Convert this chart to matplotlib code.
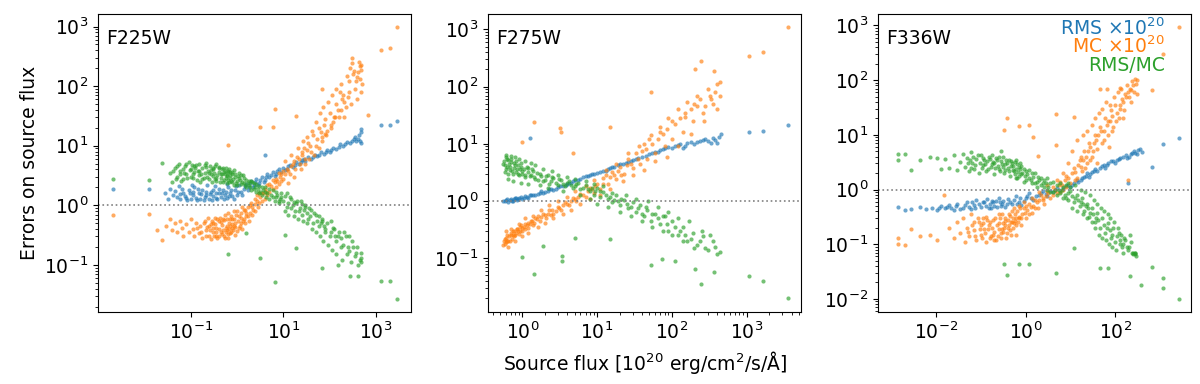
import numpy as np
import matplotlib
matplotlib.use("Agg")
import matplotlib.pyplot as plt
from matplotlib.ticker import FixedLocator, NullLocator

# -----------------------------
# Data (flux, error) pairs per filter
# -----------------------------
filters = ["F225W", "F275W", "F336W"]

# F225W
f225_rms = [
    (0.0021, 1.9), (0.0126, 1.9), (0.028, 1.6), (0.032, 1.3), (0.036, 1.9), (0.042, 1.5),
    (0.05, 1.4), (0.055, 2.1), (0.06, 1.3), (0.07, 1.6), (0.08, 1.35), (0.09, 1.8),
    (0.1, 1.3), (0.11, 1.5), (0.12, 2.0), (0.13, 1.35), (0.15, 1.6), (0.16, 1.3),
    (0.18, 1.8), (0.2, 1.4), (0.22, 1.5), (0.25, 1.3), (0.27, 1.7), (0.3, 1.45),
    (0.33, 2.1), (0.36, 1.35), (0.4, 1.6), (0.45, 1.4), (0.5, 1.8), (0.55, 1.5),
    (0.6, 1.35), (0.65, 2.0), (0.7, 1.6), (0.8, 1.45), (0.9, 1.8), (1.0, 1.5),
    (1.1, 2.2), (1.2, 1.7), (1.4, 1.9), (1.6, 2.3), (1.8, 2.0), (2.0, 2.6),
    (2.3, 2.2), (2.6, 2.8), (3.0, 2.4), (3.5, 3.0), (4.0, 2.7), (4.0, 6.9),
    (4.5, 3.3), (5.0, 3.0), (6.0, 3.6), (7.0, 3.3), (8.0, 4.0), (9.0, 3.6),
    (10, 4.3), (12, 4.0), (14, 4.8), (16, 4.4), (19, 5.3), (22, 5.0), (26, 5.8),
    (30, 5.5), (35, 6.5), (40, 6.0), (48, 7.0), (55, 6.6), (65, 7.8), (75, 7.3),
    (90, 8.5), (100, 8.0), (120, 9.2), (140, 8.8), (170, 10.5), (200, 10),
    (240, 11.5), (280, 11), (330, 13), (380, 12), (430, 15), (470, 17), (490, 19),
    (490, 11), (1300, 22), (2000, 22), (2800, 26),
    (0.045, 1.75), (0.058, 1.55), (0.065, 1.9), (0.075, 1.45), (0.085, 1.25),
    (0.095, 1.6), (0.105, 2.2), (0.115, 1.7), (0.14, 1.25), (0.145, 1.9), (0.17, 1.55),
    (0.19, 1.25), (0.21, 1.7), (0.23, 2.2), (0.26, 1.55), (0.29, 1.25), (0.31, 1.8),
    (0.35, 1.6), (0.38, 1.3), (0.42, 1.9), (0.48, 1.6), (0.52, 1.3), (0.58, 1.7),
    (0.62, 2.3), (0.68, 1.45), (0.75, 1.8), (0.85, 1.3), (0.95, 2.1), (1.05, 1.7),
    (1.3, 1.5), (1.5, 2.1), (1.7, 1.8), (1.9, 2.4), (2.2, 2.0), (2.5, 2.5), (2.8, 2.2),
    (3.2, 2.7), (3.8, 2.5), (4.2, 3.0), (5.5, 3.2), (6.5, 3.1), (7.5, 3.8), (11, 3.9),
    (13, 4.5), (18, 4.7), (24, 5.4), (28, 6.1), (45, 6.4), (60, 7.1), (85, 7.9),
    (110, 8.6), (160, 9.6), (220, 10.5), (300, 12), (350, 14), (420, 13), (460, 12),
]
f225_mc = [
    (0.0021, 0.68), (0.0126, 0.72), (0.019, 0.38), (0.024, 0.26), (0.03, 0.45),
    (0.035, 0.6), (0.04, 0.38), (0.045, 0.5), (0.05, 0.35), (0.06, 0.55), (0.065, 0.42),
    (0.07, 0.3), (0.08, 0.48), (0.09, 0.36), (0.1, 0.6), (0.11, 0.4), (0.12, 0.3),
    (0.13, 0.5), (0.15, 0.34), (0.16, 0.45), (0.18, 0.28), (0.2, 0.55), (0.22, 0.38),
    (0.25, 0.3), (0.27, 0.48), (0.3, 0.35), (0.33, 0.62), (0.36, 0.42), (0.4, 0.3),
    (0.45, 0.52), (0.5, 0.38), (0.55, 0.7), (0.6, 0.45), (0.65, 0.33), (0.7, 0.58),
    (0.8, 0.42), (0.85, 0.8), (0.9, 0.5), (1.0, 0.37), (1.1, 0.65), (1.2, 0.5),
    (1.3, 0.95), (1.4, 0.6), (1.6, 0.75), (1.8, 0.55), (2.0, 1.1), (2.2, 0.85),
    (2.5, 1.3), (2.8, 0.95), (3.0, 1.6), (3.5, 1.2), (4.0, 1.9), (4.5, 1.5),
    (5, 2.3), (6, 1.9), (7, 2.8), (8, 2.3), (9, 3.3), (10, 2.8), (12, 4), (14, 3.3),
    (16, 5), (18, 4), (20, 6.5), (23, 5), (26, 8), (30, 6), (35, 11), (40, 8),
    (45, 15), (50, 10), (60, 20), (70, 14), (80, 28), (90, 18), (100, 35), (120, 25),
    (140, 50), (160, 30), (166, 81), (200, 70), (230, 45), (260, 120), (280, 200),
    (300, 240), (320, 160), (350, 90), (400, 140), (450, 220), (480, 80), (500, 110),
    (0.65, 10.4), (3.1, 21), (6, 21), (6.8, 41), (19, 32), (69, 90), (690, 33),
    (1300, 400), (2000, 430), (2800, 970),
    (0.14, 0.42), (0.17, 0.36), (0.19, 0.5), (0.21, 0.3), (0.23, 0.44), (0.24, 0.62),
    (0.26, 0.38), (0.28, 0.27), (0.29, 0.55), (0.31, 0.42), (0.32, 0.3), (0.34, 0.48),
    (0.35, 0.36), (0.37, 0.58), (0.38, 0.28), (0.42, 0.4), (0.43, 0.62), (0.47, 0.33),
    (0.48, 0.46), (0.52, 0.56), (0.53, 0.3), (0.57, 0.42), (0.58, 0.36), (0.62, 0.6),
    (0.63, 0.28), (0.67, 0.5), (0.68, 0.4), (0.72, 0.34), (0.75, 0.65), (0.78, 0.48),
    (0.82, 0.38), (0.88, 0.58), (0.92, 0.44), (0.95, 0.7), (1.05, 0.55), (1.15, 0.45),
    (1.25, 0.75), (1.35, 0.55), (1.5, 0.85), (1.55, 0.65), (1.7, 0.95), (1.9, 0.75),
    (2.1, 0.95), (2.4, 1.05), (2.7, 1.2), (3.2, 1.4), (3.7, 1.6), (4.2, 1.7),
    (5.5, 2.1), (6.5, 2.5), (7.5, 2.6), (8.5, 3.0), (11, 3.3), (13, 3.8), (15, 4.5),
    (17, 5.5), (22, 6), (25, 7), (28, 9), (33, 8.5), (38, 10), (55, 13), (65, 17),
    (75, 22), (85, 15), (110, 22), (130, 30), (180, 40), (210, 55), (250, 65),
    (0.25, 0.45), (0.3, 0.5), (0.35, 0.3), (0.4, 0.55), (0.45, 0.35), (0.5, 0.6),
    (0.55, 0.28), (0.6, 0.38), (0.65, 0.75), (0.7, 0.45), (0.75, 0.35), (0.8, 0.6),
    (0.85, 0.45), (0.9, 0.32), (1.0, 0.8), (1.1, 0.42), (1.2, 0.62), (1.3, 0.4),
    (1.4, 0.85), (1.5, 0.5), (1.7, 0.65), (1.9, 1.0), (2.1, 0.7), (2.4, 0.8),
    (2.7, 1.5), (3.0, 1.1), (3.5, 1.6), (4, 1.3), (4.5, 2.2), (5, 1.7), (6, 2.7),
    (7, 2.0), (8, 3.5), (9, 2.6), (10, 3.8),
    (11, 5.5), (13, 2.4), (15, 7), (17, 3), (21, 9), (24, 4), (27, 12), (29, 5),
    (32, 14), (36, 6), (42, 18), (46, 7), (52, 25), (58, 9), (62, 35), (68, 12),
    (72, 45), (78, 16), (95, 55), (105, 20), (115, 70), (125, 30), (135, 90),
    (150, 40), (175, 110), (190, 60), (210, 30), (240, 150), (270, 80), (290, 50),
    (310, 300), (340, 180), (370, 120), (390, 60), (420, 170), (440, 250), (460, 130),
    (490, 190), (470, 230),
]
f225_ratio = [
    (0.0021, 2.8), (0.0126, 2.7), (0.024, 5.1), (0.035, 3.5), (0.04, 2.5), (0.045, 4.2),
    (0.05, 3.0), (0.055, 5.0), (0.06, 3.8), (0.07, 2.8), (0.075, 4.5), (0.08, 3.3),
    (0.09, 5.3), (0.1, 4.0), (0.11, 2.9), (0.12, 3.6), (0.13, 4.8), (0.15, 3.2),
    (0.16, 2.5), (0.18, 4.2), (0.2, 3.5), (0.22, 5.2), (0.25, 2.8), (0.27, 3.9),
    (0.3, 3.1), (0.33, 4.6), (0.36, 2.6), (0.4, 3.6), (0.45, 2.9), (0.5, 4.2),
    (0.55, 3.3), (0.6, 2.4), (0.65, 3.8), (0.7, 2.9), (0.8, 3.4), (0.85, 2.2),
    (0.9, 3.0), (1.0, 2.6), (1.1, 3.5), (1.2, 2.3), (1.4, 2.9), (1.6, 2.0),
    (1.8, 2.6), (2.0, 1.8), (2.3, 2.4), (2.6, 1.7), (3.0, 2.1), (3.5, 1.5),
    (4.0, 2.0), (4.5, 1.6), (5, 1.3), (6, 1.8), (7, 1.4), (8, 1.1), (9, 1.6),
    (10, 1.2), (12, 0.95), (14, 1.4), (16, 1.0), (18, 0.8), (20, 1.2), (23, 0.9),
    (26, 0.7), (30, 1.0), (35, 0.6), (40, 0.85), (45, 0.5), (50, 0.7), (60, 0.45),
    (70, 0.6), (80, 0.35), (90, 0.5), (100, 0.3), (120, 0.42), (140, 0.25),
    (160, 0.35), (200, 0.22), (230, 0.3), (260, 0.17), (300, 0.25), (350, 0.14),
    (400, 0.2), (450, 0.12), (480, 0.16),
    (6.7, 0.051), (0.65, 0.15), (3.1, 0.13), (69, 0.09), (150, 0.1), (280, 0.066),
    (410, 0.064), (11, 0.32), (19, 0.19), (1.6, 0.34), (1300, 0.053), (2000, 0.053),
    (2800, 0.027),
    (0.042, 3.8), (0.048, 2.8), (0.052, 4.5), (0.058, 3.3), (0.062, 2.6), (0.068, 4.0),
    (0.072, 3.5), (0.078, 5.0), (0.085, 2.9), (0.095, 3.9), (0.105, 4.8), (0.115, 3.3),
    (0.125, 4.2), (0.14, 2.7), (0.145, 3.7), (0.155, 5.0), (0.17, 3.4), (0.19, 2.9),
    (0.21, 4.4), (0.23, 3.0), (0.24, 3.8), (0.26, 4.6), (0.28, 3.3), (0.29, 2.5),
    (0.31, 4.0), (0.32, 3.5), (0.34, 2.8), (0.35, 4.9), (0.38, 3.2), (0.42, 4.4),
    (0.43, 2.5), (0.47, 3.4), (0.48, 4.0), (0.52, 2.7), (0.53, 3.6), (0.57, 2.9),
    (0.58, 4.3), (0.62, 3.1), (0.63, 3.6), (0.67, 2.5), (0.68, 4.0), (0.72, 3.2),
    (0.75, 2.6), (0.78, 3.6), (0.82, 2.8), (0.88, 3.9), (0.95, 2.4), (1.05, 3.1),
    (1.15, 2.7), (1.3, 2.5), (1.35, 3.2), (1.5, 2.2), (1.7, 2.4), (1.9, 2.0),
    (2.1, 2.5), (2.4, 2.0), (2.8, 1.9), (3.2, 1.7), (3.7, 1.8), (4.2, 1.4), (5.5, 1.5),
    (6.5, 1.2), (7.5, 1.5), (8.5, 1.3), (11, 1.45), (13, 1.1), (15, 0.9), (17, 1.15),
    (22, 0.8), (25, 1.05), (28, 0.85), (33, 0.75), (38, 0.65), (55, 0.55), (65, 0.5),
    (75, 0.45), (110, 0.35), (130, 0.3), (180, 0.28), (250, 0.2),
    (0.1, 3.0), (0.12, 4.6), (0.15, 3.8), (0.18, 2.8), (0.2, 4.8), (0.25, 3.5),
    (0.3, 4.2), (0.35, 2.9), (0.4, 4.3), (0.45, 3.4), (0.5, 2.5), (0.55, 3.8),
    (0.6, 3.2), (0.65, 2.7), (0.7, 3.6), (0.8, 2.5), (0.9, 3.4), (1.0, 2.2),
    (1.1, 2.9), (1.2, 3.2), (1.4, 2.4), (1.6, 2.7), (1.8, 2.2), (2.0, 2.6),
    (2.3, 1.9), (2.6, 2.3), (3.0, 1.6), (3.5, 2.0), (4, 1.7), (5, 1.9), (6, 1.4),
    (7, 1.7), (8, 1.2), (9, 1.4),
    (11, 0.8), (12, 1.6), (13, 0.7), (15, 1.3), (17, 0.65), (19, 1.1), (21, 0.6),
    (24, 1.2), (27, 0.55), (29, 0.95), (32, 0.5), (36, 0.9), (42, 0.4), (46, 0.75),
    (52, 0.35), (58, 0.65), (62, 0.3), (68, 0.55), (72, 0.25), (78, 0.4), (95, 0.22),
    (105, 0.55), (115, 0.18), (125, 0.4), (135, 0.15), (150, 0.3), (175, 0.2),
    (190, 0.12), (210, 0.35), (240, 0.15), (270, 0.3), (290, 0.11), (320, 0.2),
    (370, 0.16), (420, 0.1), (470, 0.13), (490, 0.11),
]

# F275W
f275_rms = [
    (0.56, 1.0), (0.6, 1.05), (0.65, 0.98), (0.7, 1.1), (0.75, 1.02), (0.8, 1.12),
    (0.85, 1.05), (0.9, 1.15), (1.0, 1.1), (1.1, 1.22), (1.2, 1.15), (1.3, 1.28),
    (1.5, 1.25), (1.7, 1.4), (2.0, 1.45), (2.3, 1.6), (2.6, 1.55), (3.0, 1.75),
    (3.5, 1.8), (4.0, 2.0), (4.5, 2.1), (5, 2.3), (6, 2.4), (7, 2.7), (8, 2.8),
    (9, 3.0), (10, 3.1), (12, 3.4), (14, 3.6), (16, 3.9), (19, 4.2), (22, 4.5),
    (26, 4.8), (30, 5.2), (35, 5.6), (40, 6.0), (50, 6.6), (60, 7.2), (70, 7.8),
    (80, 8.3), (100, 8.6), (120, 9.5), (140, 8.5), (160, 10.5), (200, 10), (240, 11),
    (280, 12), (330, 10.5), (380, 11.5), (430, 13), (450, 15),
    (1.27, 12.6), (1070, 16), (1640, 16.5), (3550, 21),
    (0.58, 1.02), (0.62, 1.08), (0.68, 1.04), (0.72, 1.0), (0.78, 1.08), (0.82, 1.15),
    (0.88, 1.1), (0.95, 1.2), (1.05, 1.15), (1.15, 1.18), (1.25, 1.3), (1.4, 1.3),
    (1.6, 1.35), (1.8, 1.5), (1.9, 1.4), (2.2, 1.5), (2.4, 1.65), (2.8, 1.65),
    (3.2, 1.8), (3.8, 1.9), (4.2, 2.05), (4.8, 2.2), (5.5, 2.3), (6.5, 2.6),
    (7.5, 2.7), (8.5, 2.95), (11, 3.2), (13, 3.4), (15, 3.8), (17, 3.9), (20, 4.4),
    (24, 4.6), (28, 5.0), (33, 5.5), (45, 6.2), (55, 7.0), (65, 7.3), (75, 8.0),
    (90, 8.8), (110, 9.0), (130, 9.8), (150, 9.2), (180, 10.8), (220, 10.8),
    (260, 11.5), (300, 11), (350, 12.5), (400, 10.5),
]
f275_mc = [
    (0.56, 0.17), (0.58, 0.22), (0.6, 0.19), (0.62, 0.25), (0.65, 0.2), (0.7, 0.28),
    (0.72, 0.22), (0.75, 0.3), (0.8, 0.25), (0.85, 0.33), (0.9, 0.27), (0.95, 0.38),
    (1.0, 0.3), (1.1, 0.4), (1.2, 0.34), (1.3, 0.45), (1.4, 0.38), (1.5, 0.5),
    (1.7, 0.45), (1.9, 0.6), (2.1, 0.5), (2.3, 0.7), (2.6, 0.6), (3.0, 0.8),
    (3.3, 0.7), (3.7, 0.95), (4.2, 0.85), (4.7, 1.15), (5.3, 1.0), (6, 1.35),
    (7, 1.2), (8, 1.7), (9, 1.4), (10, 2.0), (11, 1.6), (12, 2.5), (14, 2.0),
    (16, 3.2), (18, 2.4), (20, 4.0), (23, 3.0), (26, 5.5), (30, 3.8), (33, 7),
    (37, 4.5), (42, 10), (47, 5.5), (52, 14), (60, 7), (70, 20), (80, 9), (90, 28),
    (100, 12), (120, 40), (140, 16), (160, 55), (190, 25), (220, 70), (260, 35),
    (300, 90), (350, 50), (400, 110), (440, 70),
    (246, 282), (206, 200), (365, 185), (440, 123), (52, 81), (1070, 340),
    (1640, 410), (3550, 1090), (1.45, 24), (3.2, 19), (3.3, 16), (1.0, 10.7),
    (4.8, 6.9), (15, 20),
    (0.57, 0.2), (0.59, 0.18), (0.61, 0.23), (0.63, 0.2), (0.66, 0.24), (0.68, 0.2),
    (0.71, 0.25), (0.74, 0.26), (0.77, 0.24), (0.78, 0.3), (0.82, 0.28), (0.84, 0.32),
    (0.87, 0.3), (0.92, 0.3), (0.93, 0.35), (0.98, 0.34), (1.05, 0.35), (1.08, 0.32),
    (1.15, 0.38), (1.18, 0.42), (1.25, 0.4), (1.35, 0.44), (1.45, 0.42), (1.55, 0.48),
    (1.6, 0.55), (1.8, 0.52), (2.0, 0.58), (2.2, 0.6), (2.4, 0.56), (2.5, 0.7),
    (2.8, 0.68), (3.1, 0.75), (3.5, 0.85), (4.0, 0.9), (4.5, 1.0), (5.0, 1.1),
    (5.6, 1.2), (6.5, 1.25), (7.5, 1.5), (8.5, 1.6), (9.5, 1.8), (12, 2.0), (13, 2.8),
    (15, 2.6), (17, 2.8), (19, 3.4), (21, 2.8), (25, 4.2), (28, 4.5), (35, 5.5),
    (40, 7.5), (45, 8), (55, 10), (65, 12), (75, 15), (85, 18), (110, 22), (130, 28),
    (150, 35), (180, 40), (200, 50), (240, 60), (280, 45), (320, 70), (380, 80),
    (0.6, 0.3), (0.65, 0.16), (0.7, 0.33), (0.8, 0.2), (0.9, 0.4), (1.0, 0.24),
    (1.1, 0.5), (1.2, 0.28), (1.4, 0.55), (1.6, 0.35), (1.8, 0.7), (2.0, 0.42),
    (2.3, 0.85), (2.6, 0.5), (3.0, 1.0), (3.5, 0.6), (4.0, 1.2), (4.5, 0.7), (5, 1.5),
    (6, 0.9), (7, 1.8), (8, 1.1), (9, 2.3), (11, 1.3), (13, 3.5), (15, 1.6), (18, 4.5),
    (22, 2.2), (26, 7), (30, 2.8), (36, 9), (42, 3.5), (50, 12), (60, 5), (70, 16),
    (85, 6), (100, 25), (120, 9), (150, 30), (180, 15), (220, 45), (270, 25),
    (330, 60), (400, 40),
]
f275_ratio = [
    (0.56, 4.5), (0.58, 3.2), (0.6, 5.8), (0.62, 4.0), (0.65, 5.2), (0.68, 3.5),
    (0.7, 4.8), (0.75, 3.0), (0.8, 4.3), (0.85, 3.6), (0.9, 2.8), (0.95, 4.0),
    (1.0, 3.3), (1.1, 2.6), (1.2, 3.8), (1.3, 2.9), (1.4, 3.4), (1.5, 2.4),
    (1.7, 3.0), (1.9, 2.2), (2.1, 2.7), (2.3, 2.0), (2.6, 2.5), (3.0, 1.9),
    (3.3, 2.3), (3.7, 1.8), (4.2, 2.2), (4.7, 1.7), (5.3, 2.0), (6, 1.6), (7, 1.9),
    (8, 1.5), (9, 1.3), (10, 1.7), (11, 1.2), (12, 1.45), (14, 1.1), (16, 0.95),
    (18, 1.25), (20, 0.85), (23, 1.05), (26, 0.75), (30, 0.95), (33, 0.65),
    (37, 0.85), (42, 0.55), (47, 0.7), (52, 0.45), (60, 0.6), (70, 0.4), (80, 0.55),
    (90, 0.3), (100, 0.45), (120, 0.25), (140, 0.35), (160, 0.2), (190, 0.28),
    (220, 0.17), (260, 0.24), (300, 0.14), (350, 0.2), (400, 0.12), (440, 0.13),
    (1.45, 0.052), (1.0, 0.105), (1.9, 0.166), (3.4, 0.108), (3.4, 0.088),
    (5, 0.23), (15, 0.22), (52, 0.075), (73, 0.097), (110, 0.09), (206, 0.065),
    (246, 0.036), (365, 0.057), (1070, 0.049), (1640, 0.04), (3550, 0.02),
    (0.57, 5.0), (0.59, 4.2), (0.61, 3.7), (0.63, 5.5), (0.64, 3.0), (0.66, 4.5),
    (0.69, 4.0), (0.71, 5.4), (0.73, 3.4), (0.77, 4.6), (0.78, 3.8), (0.82, 3.2),
    (0.83, 5.0), (0.87, 4.2), (0.88, 3.0), (0.92, 3.6), (0.97, 4.6), (0.98, 3.0),
    (1.05, 3.7), (1.08, 2.9), (1.15, 4.0), (1.18, 3.2), (1.25, 2.7), (1.35, 3.6),
    (1.45, 2.6), (1.55, 3.1), (1.6, 2.3), (1.8, 2.7), (2.0, 2.3), (2.2, 2.9),
    (2.4, 2.2), (2.5, 2.6), (2.8, 2.1), (3.1, 2.4), (3.5, 2.0), (4.0, 2.1),
    (4.5, 1.9), (5.0, 1.8), (5.6, 2.1), (6.5, 1.7), (7.5, 1.6), (8.5, 1.7),
    (9.5, 1.5), (11, 1.5), (13, 1.3), (15, 1.2), (17, 1.05), (19, 1.0), (21, 1.1),
    (25, 0.9), (28, 0.8), (35, 0.75), (40, 0.6), (45, 0.8), (55, 0.6), (65, 0.5),
    (75, 0.55), (85, 0.4), (110, 0.35), (130, 0.3), (150, 0.25), (180, 0.22),
    (240, 0.2), (280, 0.15),
    (0.6, 6.5), (0.65, 2.4), (0.7, 6.2), (0.75, 2.2), (0.8, 5.8), (0.9, 5.5),
    (0.95, 2.1), (1.1, 5.0), (1.2, 2.0), (1.3, 4.6), (1.5, 4.2), (1.7, 1.9),
    (1.9, 3.6), (2.2, 1.7), (2.5, 3.3), (3.0, 2.8), (3.5, 1.5), (4, 2.6), (5, 2.4),
    (6, 1.3), (7, 2.2), (8, 1.1), (9, 2.0), (10, 0.9), (12, 1.8), (14, 0.8), (16, 1.4),
    (20, 0.65), (24, 1.3), (28, 0.55), (33, 1.1), (40, 0.45), (48, 1.0), (55, 0.35),
    (65, 0.8), (75, 0.3), (90, 0.65), (100, 0.25), (120, 0.5), (140, 0.2), (170, 0.45),
    (200, 0.15), (250, 0.3), (320, 0.25), (380, 0.16),
]

# F336W
f336_rms = [
    (0.0014, 0.47), (0.0021, 0.43), (0.0028, 0.44), (0.0044, 0.48), (0.006, 0.44),
    (0.008, 0.45), (0.0104, 0.43), (0.013, 0.5), (0.016, 0.45), (0.02, 0.52),
    (0.025, 0.42), (0.03, 0.55), (0.04, 0.46), (0.05, 0.6), (0.06, 0.44), (0.07, 0.52),
    (0.08, 0.65), (0.1, 0.48), (0.12, 0.58), (0.15, 0.45), (0.18, 0.62), (0.2, 0.5),
    (0.25, 0.7), (0.3, 0.55), (0.35, 0.48), (0.4, 0.66), (0.5, 0.55), (0.6, 0.75),
    (0.7, 0.6), (0.8, 0.52), (1.0, 0.7), (1.2, 0.85), (1.5, 0.65), (2, 0.8),
    (2.5, 0.95), (3, 0.75), (4, 0.9), (5, 1.05), (6, 0.95), (8, 1.15), (10, 1.1),
    (12, 1.3), (15, 1.4), (18, 1.6), (22, 1.8), (26, 1.7), (30, 2.1), (35, 2.4),
    (40, 2.2), (50, 2.7), (60, 2.5), (70, 3.0), (80, 3.3), (100, 3.1), (120, 3.6),
    (150, 4.0), (180, 3.8), (220, 4.5), (260, 5.0), (300, 4.4), (350, 5.5), (390, 4.8),
    (1180, 6.7), (2650, 8.9), (670, 2.6), (195, 1.3),
    (0.012, 0.46), (0.018, 0.48), (0.022, 0.45), (0.028, 0.5), (0.035, 0.44),
    (0.045, 0.52), (0.055, 0.48), (0.065, 0.58), (0.075, 0.45), (0.09, 0.55),
    (0.11, 0.6), (0.13, 0.5), (0.14, 0.68), (0.16, 0.55), (0.17, 0.46), (0.19, 0.58),
    (0.22, 0.62), (0.23, 0.48), (0.27, 0.58), (0.28, 0.5), (0.32, 0.62), (0.38, 0.55),
    (0.45, 0.6), (0.55, 0.65), (0.65, 0.55), (0.75, 0.7), (0.9, 0.62), (1.1, 0.75),
    (1.3, 0.7), (1.7, 0.75), (2.2, 0.85), (2.8, 0.82), (3.5, 0.95), (4.5, 0.98),
    (7, 1.05), (9, 1.2), (11, 1.2), (14, 1.5), (17, 1.5), (20, 1.7), (24, 2.0),
    (28, 1.9), (33, 2.2), (45, 2.5), (55, 2.8), (65, 2.8), (90, 3.3), (110, 3.4),
    (130, 3.7), (170, 4.2), (200, 4.0), (240, 4.7), (280, 4.6), (320, 5.2),
]
f336_mc = [
    (0.0014, 0.13), (0.0014, 0.10), (0.0021, 0.096), (0.0028, 0.19), (0.0044, 0.14),
    (0.0074, 0.15), (0.0104, 0.12), (0.015, 0.79),
    (0.02, 0.2), (0.025, 0.13), (0.03, 0.25), (0.035, 0.16), (0.04, 0.3), (0.045, 0.11),
    (0.05, 0.2), (0.055, 0.14), (0.06, 0.35), (0.07, 0.18), (0.08, 0.12), (0.09, 0.25),
    (0.1, 0.15), (0.11, 0.3), (0.12, 0.19), (0.13, 0.11), (0.15, 0.22), (0.17, 0.14),
    (0.19, 0.28), (0.2, 0.17), (0.22, 0.12), (0.25, 0.24), (0.28, 0.16), (0.3, 0.35),
    (0.33, 0.2), (0.36, 0.13), (0.4, 0.28), (0.45, 0.18), (0.5, 0.4), (0.55, 0.24),
    (0.6, 0.15), (0.7, 0.32), (0.8, 0.22), (0.9, 0.45), (1.0, 0.3), (1.2, 0.55),
    (1.4, 0.38), (1.6, 0.65), (1.9, 0.45), (2.2, 0.8), (2.6, 0.55), (3, 0.95),
    (3.5, 0.7), (4, 1.1), (5, 0.85), (6, 1.4), (7, 1.0), (8, 1.8), (10, 1.3),
    (12, 2.5), (14, 1.6), (16, 3.5), (18, 2.2), (20, 5), (23, 3), (26, 7), (30, 4),
    (35, 10), (40, 5.5), (45, 14), (50, 7), (60, 20), (70, 10), (80, 28), (90, 14),
    (100, 35), (120, 20), (140, 45), (160, 28), (190, 60), (220, 40), (250, 80),
    (275, 103), (300, 55),
    (650, 66), (127, 73), (45, 68), (64, 70), (4.9, 24), (12, 21), (0.39, 20),
    (0.33, 12.5), (0.72, 14.6), (1.2, 15), (1.43, 9.2), (1.9, 4.1), (4.8, 6.6),
    (190, 1.5), (2650, 920), (1180, 300),
    (0.052, 0.17), (0.065, 0.22), (0.075, 0.14), (0.085, 0.3), (0.095, 0.19),
    (0.105, 0.13), (0.115, 0.24), (0.125, 0.16), (0.14, 0.28), (0.145, 0.19),
    (0.16, 0.13), (0.18, 0.2), (0.19, 0.15), (0.21, 0.3), (0.23, 0.22), (0.24, 0.14),
    (0.26, 0.19), (0.27, 0.3), (0.29, 0.13), (0.31, 0.24), (0.32, 0.17), (0.34, 0.3),
    (0.35, 0.22), (0.38, 0.16), (0.42, 0.22), (0.43, 0.35), (0.47, 0.25), (0.48, 0.15),
    (0.52, 0.3), (0.53, 0.2), (0.57, 0.35), (0.58, 0.27), (0.62, 0.22), (0.65, 0.4),
    (0.68, 0.26), (0.72, 0.3), (0.75, 0.45), (0.85, 0.35), (0.95, 0.38), (1.1, 0.42),
    (1.3, 0.48), (1.5, 0.5), (1.8, 0.58), (2.0, 0.65), (2.4, 0.7), (2.8, 0.75),
    (3.2, 0.85), (4.5, 1.0), (5.5, 1.2), (6.5, 1.2), (7.5, 1.5), (9, 1.6), (11, 2.0),
    (13, 2.1), (15, 2.8), (17, 2.6), (19, 3.5), (22, 4.0), (25, 5), (28, 6), (32, 5),
    (38, 8), (42, 10), (55, 12), (65, 15), (75, 18), (85, 22), (110, 25), (130, 35),
    (150, 40), (170, 50), (200, 50), (230, 65),
    (0.07, 0.25), (0.1, 0.22), (0.13, 0.32), (0.16, 0.25), (0.2, 0.12), (0.25, 0.35),
    (0.3, 0.19), (0.35, 0.27), (0.4, 0.2), (0.45, 0.33), (0.5, 0.25), (0.55, 0.45),
    (0.6, 0.3), (0.7, 0.5), (0.8, 0.3), (0.9, 0.6), (1.0, 0.5), (1.2, 0.35),
    (1.4, 0.7), (1.6, 0.45), (2.0, 0.9), (2.5, 0.65), (3.0, 1.2), (4.0, 0.8),
    (5, 1.5), (6, 0.9), (7, 2.0), (8, 1.1),
    (9, 3), (11, 5), (13, 1.5), (14, 8), (17, 4), (19, 10), (21, 2.5), (24, 12),
    (27, 3.5), (30, 15), (33, 7), (36, 20), (40, 3), (44, 25), (48, 12), (52, 30),
    (57, 8), (62, 40), (68, 18), (72, 6), (78, 35), (85, 12), (95, 50), (105, 18),
    (115, 60), (125, 30), (135, 70), (150, 20), (165, 55), (180, 80), (210, 70),
    (240, 95), (260, 60), (290, 85), (300, 100),
]
f336_ratio = [
    (0.0014, 4.5), (0.0014, 3.5), (0.0021, 4.5), (0.0028, 2.3), (0.0044, 3.4),
    (0.0074, 4.0), (0.0104, 3.8), (0.013, 2.4), (0.016, 3.6), (0.02, 2.5), (0.025, 4.2),
    (0.03, 2.3), (0.035, 3.2), (0.04, 4.5), (0.045, 2.6), (0.05, 3.8), (0.055, 2.2),
    (0.06, 4.8), (0.065, 3.0), (0.07, 2.4), (0.08, 3.6), (0.09, 2.0), (0.1, 4.2),
    (0.11, 2.8), (0.12, 3.4), (0.13, 2.2), (0.15, 4.0), (0.17, 2.6), (0.19, 3.2),
    (0.2, 1.9), (0.22, 3.8), (0.25, 2.4), (0.28, 5.0), (0.3, 2.9), (0.33, 2.0),
    (0.36, 3.4), (0.4, 2.5), (0.45, 1.8), (0.5, 3.0), (0.55, 2.2), (0.6, 1.6),
    (0.7, 2.6), (0.8, 1.9), (0.9, 1.4), (1.0, 2.2), (1.2, 1.6), (1.4, 2.0), (1.6, 1.3),
    (1.9, 1.7), (2.2, 1.2), (2.6, 1.5), (3, 1.0), (3.5, 1.3), (4, 0.9), (5, 1.2),
    (6, 0.85), (7, 1.1), (8, 0.7), (10, 0.95), (12, 0.6), (14, 0.8), (16, 0.5),
    (18, 0.7), (20, 0.4), (23, 0.55), (26, 0.32), (30, 0.45), (35, 0.25), (40, 0.38),
    (45, 0.2), (50, 0.3), (60, 0.16), (70, 0.24), (80, 0.13), (90, 0.2), (100, 0.11),
    (120, 0.16), (140, 0.09), (160, 0.13), (190, 0.08), (220, 0.11), (250, 0.065),
    (270, 0.07),
    (650, 0.039), (1180, 0.024), (1180, 0.016), (2650, 0.0098), (370, 0.018),
    (210, 0.026), (45, 0.037), (70, 0.036), (4.9, 0.03), (0.39, 0.027), (0.33, 0.044),
    (0.72, 0.044), (1.2, 0.044), (12, 0.087), (250, 0.068),
    (0.052, 3.0), (0.058, 3.5), (0.062, 2.5), (0.068, 3.9), (0.075, 2.8), (0.085, 4.2),
    (0.095, 3.1), (0.105, 2.5), (0.115, 3.7), (0.125, 2.9), (0.14, 3.3), (0.145, 2.4),
    (0.16, 3.6), (0.175, 2.9), (0.18, 4.3), (0.2, 3.0), (0.21, 2.5), (0.23, 3.4),
    (0.24, 2.7), (0.26, 3.9), (0.27, 2.2), (0.29, 3.3), (0.31, 2.6), (0.32, 4.0),
    (0.34, 2.9), (0.35, 2.3), (0.38, 3.0), (0.42, 3.5), (0.43, 2.2), (0.47, 2.7),
    (0.48, 3.3), (0.52, 2.3), (0.53, 2.7), (0.57, 3.2), (0.58, 1.9), (0.62, 2.4),
    (0.65, 2.9), (0.68, 2.1), (0.72, 1.8), (0.75, 2.4), (0.85, 2.0), (0.95, 1.8),
    (1.1, 1.9), (1.3, 1.5), (1.5, 1.7), (1.8, 1.4), (2.0, 1.5), (2.4, 1.3), (2.8, 1.3),
    (3.2, 1.1), (4.5, 1.0), (5.5, 1.0), (6.5, 1.0), (7.5, 0.8), (9, 0.85), (11, 0.75),
    (13, 0.7), (15, 0.65), (17, 0.6), (19, 0.55), (22, 0.5), (25, 0.45), (28, 0.38),
    (32, 0.35), (38, 0.3), (42, 0.28), (55, 0.22), (65, 0.2), (75, 0.18), (85, 0.15),
    (110, 0.14), (130, 0.12), (150, 0.1), (200, 0.09),
    (0.6, 3.5), (0.65, 1.6), (0.75, 3.1), (0.8, 2.7), (0.9, 2.4), (1.0, 1.5),
    (1.2, 2.3), (1.4, 1.3), (1.6, 2.0), (1.8, 1.1), (2.2, 1.6), (2.6, 1.1), (3.0, 1.6),
    (3.5, 0.9), (4, 1.4), (5, 0.8), (6, 1.3), (7, 0.7), (8, 1.2), (9, 0.65), (10, 1.1),
    (9, 1.3), (11, 0.45), (13, 1.2), (14, 0.4), (17, 1.0), (19, 0.35), (21, 0.9),
    (24, 0.3), (27, 0.8), (30, 0.25), (33, 0.65), (36, 0.2), (40, 0.55), (44, 0.15),
    (48, 0.45), (52, 0.13), (57, 0.4), (62, 0.12), (68, 0.35), (72, 0.1), (78, 0.3),
    (85, 0.09), (95, 0.25), (105, 0.08), (115, 0.2), (125, 0.1), (135, 0.15),
    (150, 0.07), (165, 0.12), (180, 0.09), (210, 0.15), (240, 0.07), (270, 0.065),
    (280, 0.068), (290, 0.06),
]

panels = [
    (f225_rms, f225_mc, f225_ratio),
    (f275_rms, f275_mc, f275_ratio),
    (f336_rms, f336_mc, f336_ratio),
]

xlims = [(10**-3.0, 10**3.76), (10**-0.455, 10**3.73), (10**-3.29, 10**3.69)]
ylims = [(10**-1.79, 10**3.21), (10**-1.94, 10**3.27), (10**-2.24, 10**3.21)]
lefts = [0.0817, 0.4069, 0.7317]

colors = ["tab:blue", "tab:orange", "tab:green"]

# -----------------------------
# Plot
# -----------------------------
plt.rcParams["font.size"] = 13.5
fig = plt.figure(figsize=(12, 3.84), dpi=100)

for i, (name, series) in enumerate(zip(filters, panels)):
    ax = fig.add_axes([lefts[i], 0.1875, 0.2608, 0.776])
    for pts, c in zip(series, colors):
        arr = np.array(pts)
        ax.scatter(arr[:, 0], arr[:, 1], s=9, color=c, alpha=0.65, lw=0)
    ax.axhline(1, color="gray", ls=":", lw=1.2)
    ax.set_xscale("log")
    ax.set_yscale("log")
    ax.set_xlim(xlims[i])
    ax.set_ylim(ylims[i])
    if i == 0:
        # every second decade labelled, no minor ticks
        ax.xaxis.set_major_locator(FixedLocator([1e-1, 1e1, 1e3]))
        ax.xaxis.set_minor_locator(NullLocator())
    ax.text(0.026, 0.95, name, transform=ax.transAxes, ha="left", va="top")
    if i == 0:
        ax.set_ylabel("Errors on source flux")
    if i == 1:
        ax.set_xlabel("Source flux [10$^{20}$ erg/cm$^2$/s/Å]")
    if i == 2:
        labels = ["RMS $\\times10^{20}$", "MC $\\times10^{20}$", "RMS/MC"]
        for j, (lab, c) in enumerate(zip(labels, colors)):
            ax.text(0.917, 0.93 - 0.06 * j, lab, color=c, transform=ax.transAxes,
                    ha="right", va="baseline")

fig.savefig("out.png", dpi=100)
